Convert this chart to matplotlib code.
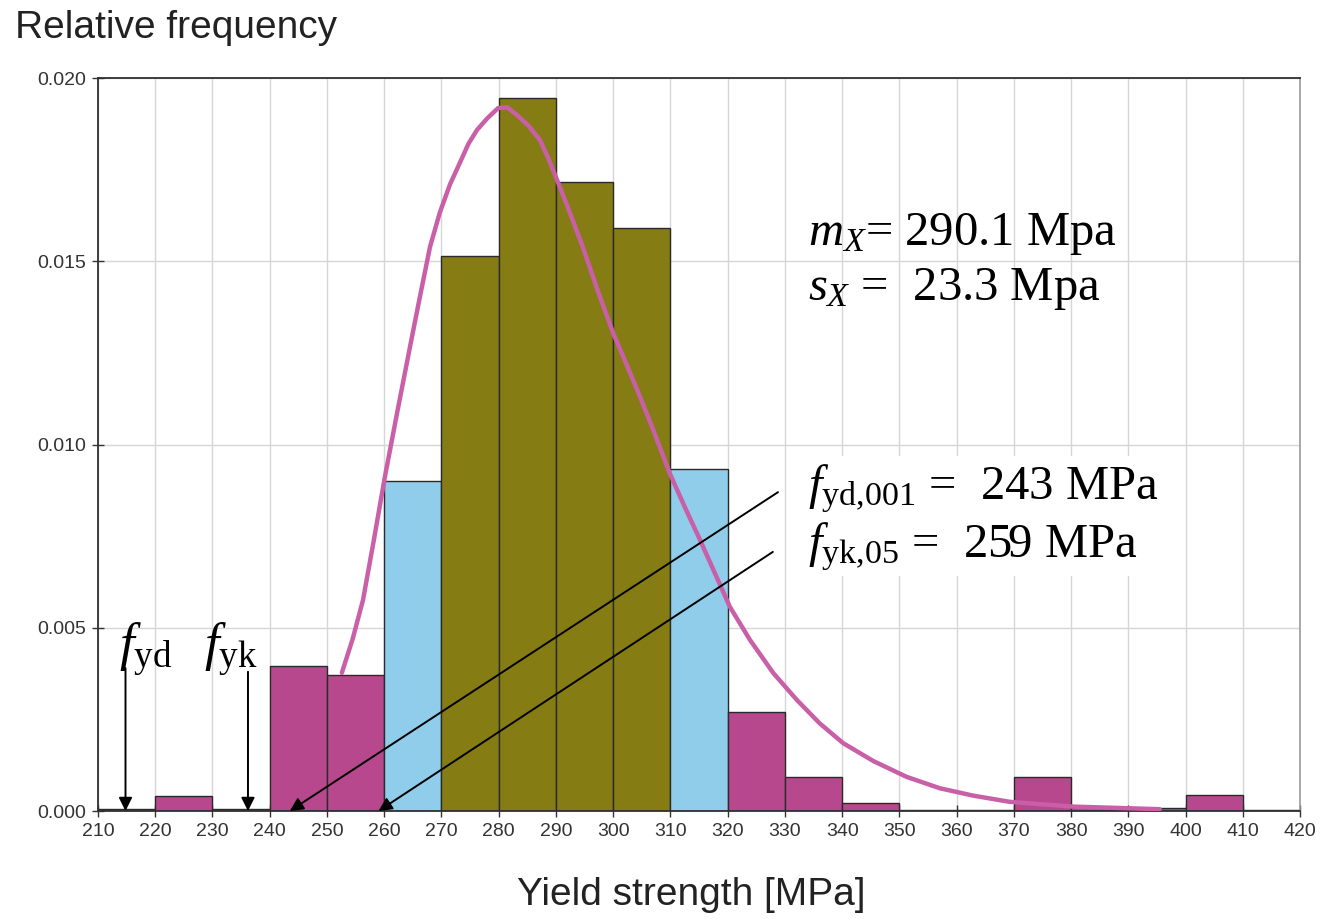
import matplotlib
matplotlib.use("Agg")
import matplotlib.pyplot as plt
from matplotlib.patches import Rectangle
import numpy as np

# ---- data ----
bin_edges = [210, 220, 230, 240, 250, 260, 270, 280, 290, 300, 310,
             320, 330, 340, 350, 360, 370, 380, 390, 400, 410, 420]
rel_freq = [0.00005, 0.00042, 0.00005, 0.00396, 0.00371, 0.00900, 0.01514,
            0.01945, 0.01716, 0.01591, 0.00933, 0.00270, 0.00094, 0.00022,
            0.00004, 0.00004, 0.00094, 0.00010, 0.00008, 0.00044, 0.00004]
bin_group = ["tail", "tail", "tail", "tail", "tail", "mid", "core", "core",
             "core", "core", "mid", "tail", "tail", "tail", "tail", "tail",
             "tail", "tail", "tail", "tail", "tail"]

curve_x = [252.6, 254.5, 256.3, 258.2, 260.1, 262.3, 264.5, 266.2, 268.0,
           269.7, 271.5, 273.2, 274.7, 276.2, 278.0, 279.9, 281.5, 283.2,
           285.2, 287.2, 288.7, 290.2, 292.5, 294.7, 297.3, 300.0, 302.3,
           304.7, 307.0, 309.9, 312.5, 315.2, 320.4, 323.9, 328.0, 332.1,
           336.1, 340.2, 345.5, 351.3, 357.1, 362.9, 369.3, 380.4, 395.5]
curve_y = [0.00377, 0.0047, 0.00576, 0.0074, 0.0091, 0.0109, 0.01266,
           0.0140, 0.01539, 0.01632, 0.0171, 0.01768, 0.0182, 0.01858,
           0.0189, 0.01918, 0.0192, 0.01899, 0.0187, 0.01831, 0.0178,
           0.01722, 0.0163, 0.01539, 0.0142, 0.01304, 0.0122, 0.0113,
           0.0104, 0.00921, 0.0083, 0.00739, 0.00557, 0.00467, 0.00376,
           0.00303, 0.00239, 0.00185, 0.00136, 0.00093, 0.00062, 0.00042,
           0.00025, 0.00012, 0.00005]

x_ticks = list(range(210, 421, 10))
y_ticks = [0.000, 0.005, 0.010, 0.015, 0.020]

m_x, s_x = 290.1, 23.3
f_yd001, f_yk05 = 243, 259
f_yd_pos, f_yk_pos = 214.8, 236.2

# ---- style ----
group_colors = {"tail": "#B8488E", "mid": "#8FCDEB", "core": "#857C14"}
curve_color = "#C95FA7"

plt.rcParams["mathtext.fontset"] = "custom"
plt.rcParams["mathtext.rm"] = "Liberation Serif"
plt.rcParams["mathtext.it"] = "Liberation Serif:italic"

fig = plt.figure(figsize=(13.21, 9.19), dpi=100)
ax = fig.add_axes([0.0742, 0.1175, 0.9841 - 0.0742, 0.9151 - 0.1175])

lefts = bin_edges[:-1]
widths = np.diff(bin_edges)
ax.bar(lefts, rel_freq, width=widths, align="edge",
       color=[group_colors[g] for g in bin_group],
       edgecolor="#2a2a2a", linewidth=1.0, zorder=2)

ax.plot(curve_x, curve_y, color=curve_color, lw=3.2, zorder=3,
        solid_capstyle="round", solid_joinstyle="round")

ax.set_xlim(210, 420)
ax.set_ylim(0, 0.020)
ax.set_xticks(x_ticks)
ax.set_yticks(y_ticks)
ax.set_yticklabels([f"{v:.3f}" for v in y_ticks])
ax.tick_params(axis="both", direction="inout", length=9, width=1,
               colors="#333333", labelsize=14, pad=4)
for lab in ax.get_xticklabels() + ax.get_yticklabels():
    lab.set_fontfamily("Liberation Sans")
    lab.set_color("#333333")

ax.grid(True, color="#d6d6d6", lw=1.0, zorder=0)
ax.set_axisbelow(True)
for side in ["left", "bottom", "top"]:
    ax.spines[side].set_color("#303030")
    ax.spines[side].set_linewidth(1.3)
ax.spines["right"].set_color("#999999")
ax.spines["right"].set_linewidth(1.2)

# down arrows for f_yd and f_yk
arrow_kw = dict(arrowstyle="-|>", color="black", lw=1.4,
                mutation_scale=20, shrinkA=0, shrinkB=0)
for xp, ytop in [(f_yd_pos, 0.0039), (f_yk_pos, 0.0038)]:
    ax.annotate("", xy=(xp, 0.0), xytext=(xp, ytop), arrowprops=arrow_kw,
                zorder=5, annotation_clip=False)

serif = "Liberation Serif"
ax.text(213.6, 0.0041, r"$f_{\rm yd}$", fontsize=38, family=serif,
        va="baseline", ha="left", zorder=6)
ax.text(228.6, 0.0041, r"$f_{\rm yk}$", fontsize=38, family=serif,
        va="baseline", ha="left", zorder=6)

# diagonal leader lines
ax.annotate("", xy=(f_yd001 + 0.5, 0.0), xytext=(328.8, 0.0087),
            arrowprops=arrow_kw, zorder=5, annotation_clip=False)
ax.annotate("", xy=(f_yk05, 0.0), xytext=(327.9, 0.00707),
            arrowprops=arrow_kw, zorder=5, annotation_clip=False)

# white background behind the characteristic-value text
ax.add_patch(Rectangle((333.3, 0.0064), 64, 0.0033, facecolor="white",
                       edgecolor="none", zorder=4))

# statistics text
ax.text(334.0, 0.01544, rf"$m_X$= {m_x:.1f} Mpa", fontsize=35, family=serif,
        va="baseline", ha="left", zorder=6)
ax.text(334.0, 0.01394, rf"$s_X$ =  {s_x:.1f} Mpa", fontsize=35, family=serif,
        va="baseline", ha="left", zorder=6)
ax.text(334.0, 0.00849, rf"$f_{{\rm yd{{,}}001}}$ =  {f_yd001} MPa",
        fontsize=35, family=serif, va="baseline", ha="left", zorder=6)
ax.text(334.0, 0.00693, rf"$f_{{\rm yk{{,}}05}}$ =  {f_yk05} MPa",
        fontsize=35, family=serif, va="baseline", ha="left", zorder=6)

fig.text(0.0115, 1 - 38 / 919, "Relative frequency", fontsize=28,
         family="Liberation Sans", color="#222222", va="baseline", ha="left")
fig.text(0.523, 1 - 905 / 919, "Yield strength [MPa]", fontsize=28,
         family="Liberation Sans", color="#222222", va="baseline", ha="center")

fig.savefig("out.png", dpi=100)
